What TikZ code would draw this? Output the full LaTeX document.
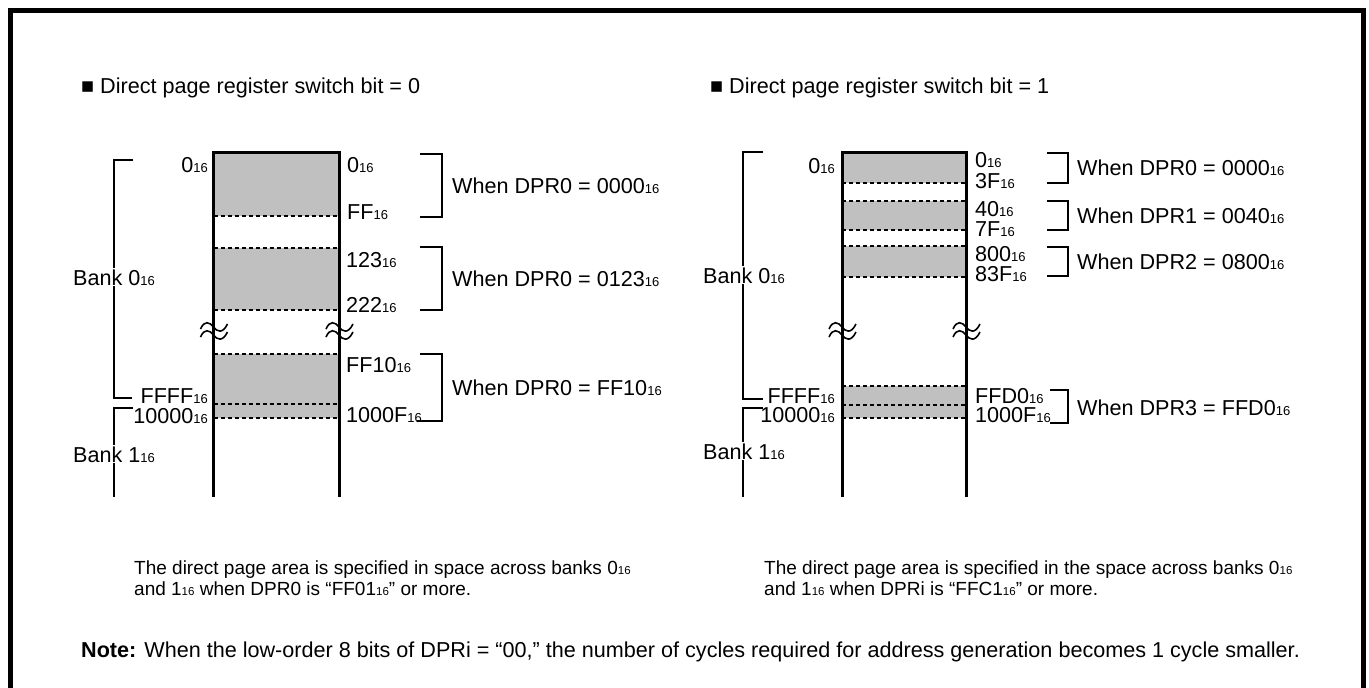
\documentclass[tikz,border=0pt]{standalone}
\usepackage{fontspec}
\setmainfont{Liberation Sans}
\definecolor{memgray}{RGB}{192,192,192}
\newcommand\hx[1]{{\fontsize{13}{13}\selectfont #1}}
\newcommand\hs[1]{{\fontsize{11.5}{11.5}\selectfont #1}}
\newcommand\wavymark[2]{%
  \draw[wave] (#1-13,#2+2) .. controls (#1-9,#2-7) and (#1-4,#2-5) .. (#1,#2) .. controls (#1+4,#2+5) and (#1+9,#2+7) .. (#1+14,#2-3);}
\tikzset{
  memline/.style={line width=3pt},
  dline/.style={line width=1.3pt, dash pattern=on 4pt off 3pt},
  brkt/.style={line width=1.5pt},
  wave/.style={line width=1.6pt},
  lbl/.style={font=\fontsize{21.6}{21.6}\selectfont, inner sep=0pt},
  bank/.style={lbl, fill=white, inner sep=1pt},
  captext/.style={font=\fontsize{19}{20.5}\selectfont, inner sep=0pt, align=left},
}
\begin{document}
\begin{tikzpicture}[x=1pt,y=-1pt]
\useasboundingbox (0,0) rectangle (1369,688);
% frame
\draw[line width=5pt] (10,688) -- (10,10) -- (1363,10) -- (1363,688);

% headers
\node[lbl, anchor=base west] (h1) at (81,93) {■ Direct page register switch bit = 0};
\node[lbl, anchor=base west] (h2) at (710,93) {■ Direct page register switch bit = 1};

%================ LEFT DIAGRAM ================
\fill[memgray] (213.5,152) rectangle (339,216);
\fill[memgray] (213.5,248) rectangle (339,310);
\fill[memgray] (213.5,354) rectangle (339,418);
\foreach \yy in {216,248,310,354,404,418}
  \draw[dline] (213.5,\yy) -- (339,\yy);
\draw[memline, line join=miter] (213.5,497) -- (213.5,152) -- (339,152) -- (339,497);
\wavymark{213.5}{327}
\wavymark{213.5}{335}
\wavymark{339}{327}
\wavymark{339}{335}

\node[lbl, anchor=base east] (la0) at (208,172) {0\hx{16}};
\node[lbl, anchor=base east] (laffff) at (208,403) {FFFF\hx{16}};
\node[lbl, anchor=base east] (la10000) at (208,423) {10000\hx{16}};
\node[lbl, anchor=base west] (ra0) at (347,172) {0\hx{16}};
\node[lbl, anchor=base west] (raff) at (347,219) {FF\hx{16}};
\node[lbl, anchor=base west] (ra123) at (346,267) {123\hx{16}};
\node[lbl, anchor=base west] (ra222) at (346,312) {222\hx{16}};
\node[lbl, anchor=base west] (raff10) at (346,372) {FF10\hx{16}};
\node[lbl, anchor=base west] (ra1000f) at (346,422) {1000F\hx{16}};

% bank brackets
\draw[brkt] (133,160) -- (114,160) -- (114,398) -- (132,398);
\draw[brkt] (133,408) -- (114,408) -- (114,497);
\node[bank, anchor=base west] (bank0) at (72,285) {Bank 0\hx{16}};
\node[bank, anchor=base west] (bank1) at (72,462) {Bank 1\hx{16}};

% right brackets
\draw[brkt] (420,154) -- (442,154) -- (442,217) -- (420,217);
\draw[brkt] (420,247) -- (442,247) -- (442,310) -- (420,310);
\draw[brkt] (420,354) -- (442,354) -- (442,421) -- (417,421);
\node[lbl, anchor=west] (w1) at (452,185.5) {When DPR0 = 0000\hx{16}};
\node[lbl, anchor=west] (w2) at (452,278.5) {When DPR0 = 0123\hx{16}};
\node[lbl, anchor=west] (w3) at (452,387.5) {When DPR0 = FF10\hx{16}};

\node[captext, anchor=base west] (c1) at (134,595) {The direct page area is specified in space across banks 0\hs{16}\\and 1\hs{16} when DPR0 is “FF01\hs{16}” or more.};

%================ RIGHT DIAGRAM ================
\fill[memgray] (842,152) rectangle (966,183);
\fill[memgray] (842,201) rectangle (966,230);
\fill[memgray] (842,246) rectangle (966,277);
\fill[memgray] (842,386) rectangle (966,418);
\foreach \yy in {183,201,230,246,277,386,405,418}
  \draw[dline] (842,\yy) -- (966,\yy);
\draw[memline, line join=miter] (842,497) -- (842,152) -- (966,152) -- (966,497);
\wavymark{842}{327}
\wavymark{842}{335}
\wavymark{966}{327}
\wavymark{966}{335}

\node[lbl, anchor=base east] (lb0) at (835,173) {0\hx{16}};
\node[lbl, anchor=base east] (lbffff) at (835,403) {FFFF\hx{16}};
\node[lbl, anchor=base east] (lb10000) at (835,422) {10000\hx{16}};
\node[lbl, anchor=base west] (rb0) at (975,167) {0\hx{16}};
\node[lbl, anchor=base west] (rb3f) at (975,188) {3F\hx{16}};
\node[lbl, anchor=base west] (rb40) at (975,216) {40\hx{16}};
\node[lbl, anchor=base west] (rb7f) at (975,236) {7F\hx{16}};
\node[lbl, anchor=base west] (rb800) at (975,261) {800\hx{16}};
\node[lbl, anchor=base west] (rb83f) at (975,281) {83F\hx{16}};
\node[lbl, anchor=base west] (rbffd0) at (975,403) {FFD0\hx{16}};
\node[lbl, anchor=base west] (rb1000f) at (975,422) {1000F\hx{16}};

\draw[brkt] (763,152) -- (743,152) -- (743,399) -- (763,399);
\draw[brkt] (763,408) -- (743,408) -- (743,497);
\node[bank, anchor=base west] (bank0r) at (702,283) {Bank 0\hx{16}};
\node[bank, anchor=base west] (bank1r) at (702,459) {Bank 1\hx{16}};

\draw[brkt] (1047,153) -- (1068,153) -- (1068,183) -- (1047,183);
\draw[brkt] (1047,201) -- (1068,201) -- (1068,230) -- (1047,230);
\draw[brkt] (1047,247) -- (1068,247) -- (1068,276) -- (1047,276);
\draw[brkt] (1050,390) -- (1068,390) -- (1068,423) -- (1050,423);
\node[lbl, anchor=west] (v1) at (1077,168) {When DPR0 = 0000\hx{16}};
\node[lbl, anchor=west] (v2) at (1077,215.5) {When DPR1 = 0040\hx{16}};
\node[lbl, anchor=west] (v3) at (1077,262) {When DPR2 = 0800\hx{16}};
\node[lbl, anchor=west] (v4) at (1077,408) {When DPR3 = FFD0\hx{16}};

\node[captext, anchor=base west] (c2) at (764,595) {The direct page area is specified in the space across banks 0\hs{16}\\and 1\hs{16} when DPRi is “FFC1\hs{16}” or more.};

% note
\node[lbl, anchor=base west] (note) at (81,657) {\textbf{Note:} When the low-order 8 bits of DPRi = “00,” the number of cycles required for address generation becomes 1 cycle smaller.};
\end{tikzpicture}
\end{document}
